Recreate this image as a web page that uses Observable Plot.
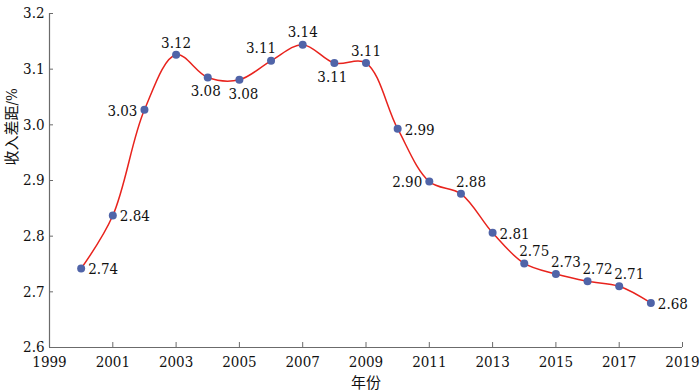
<!DOCTYPE html>
<html><head><meta charset="utf-8">
<script src="https://cdn.jsdelivr.net/npm/d3@7"></script>
<script src="https://cdn.jsdelivr.net/npm/@observablehq/plot@0.6"></script>
<style>
body{margin:0;background:#fff}
</style>
</head><body><div id="chart"></div>
<script>
const years = [2000,2001,2002,2003,2004,2005,2006,2007,2008,2009,2010,2011,2012,2013,2014,2015,2016,2017,2018];
const gap = [2.742,2.837,3.027,3.126,3.085,3.081,3.115,3.144,3.111,3.111,2.993,2.898,2.876,2.806,2.751,2.732,2.719,2.710,2.680];
const valueLabels = ["2.74","2.84","3.03","3.12","3.08","3.08","3.11","3.14","3.11","3.11","2.99","2.90","2.88","2.81","2.75","2.73","2.72","2.71","2.68"];
const labelPlacement = ["right","right","left","above","belowLeft","belowRight","aboveLeft","above","belowLeft","above","right","left","aboveRight","right","aboveRight","aboveRight","aboveRight","aboveRight","right"];
const xTicks = [1999,2001,2003,2005,2007,2009,2011,2013,2015,2017,2019];
const yTicks = [2.6,2.7,2.8,2.9,3.0,3.1,3.2];
const xTitle = "年份";
const yTitle = "收入差距/%";

const data = years.map((year, i) => ({year, value: gap[i], label: valueLabels[i], pos: labelPlacement[i]}));

const serif = "DejaVu Serif Condensed, DejaVu Serif, Noto Sans CJK SC";
const placementStyle = {
  right: {dx: 7, dy: 1, textAnchor: "start"},
  left: {dx: -7, dy: 1, textAnchor: "end"},
  above: {dx: 0, dy: -12, textAnchor: "middle"},
  belowLeft: {dx: -2, dy: 14, textAnchor: "middle"},
  belowRight: {dx: 4, dy: 14, textAnchor: "middle"},
  aboveLeft: {dx: -10, dy: -13, textAnchor: "middle"},
  aboveRight: {dx: 10, dy: -12, textAnchor: "middle"}
};

const axisColor = "#6b6b6b";
const labelMarks = Object.entries(placementStyle).map(([key, s]) =>
  Plot.text(data.filter(d => d.pos === key), {x: "year", y: "value", text: "label", fontSize: 15, fontFamily: serif, fill: "#111", ...s})
);

const chart = Plot.plot({
  width: 700,
  height: 391,
  marginLeft: 49,
  marginRight: 18,
  marginTop: 13,
  marginBottom: 44,
  style: {background: "#fff", fontFamily: serif},
  x: {domain: [xTicks[0], xTicks[xTicks.length - 1]]},
  y: {domain: [yTicks[0], yTicks[yTicks.length - 1]]},
  marks: [
    Plot.ruleX([xTicks[0]], {stroke: axisColor, strokeWidth: 1.2}),
    Plot.ruleY([yTicks[0]], {stroke: axisColor, strokeWidth: 1.2}),
    Plot.axisX({ticks: xTicks, tickFormat: d => String(d), tickSize: -5, tickPadding: 14, fontSize: 15, fontFamily: serif, color: "#111", stroke: axisColor,
      label: xTitle, labelAnchor: "center", labelOffset: 40, labelArrow: "none"}),
    Plot.axisY({ticks: yTicks, tickFormat: d3.format(".1f"), tickSize: -4, tickPadding: 9, fontSize: 15, fontFamily: serif, color: "#111", stroke: axisColor,
      label: null}),
    Plot.text([yTitle], {frameAnchor: "left", rotate: -90, dx: -37, dy: -15, fontSize: 15, fontFamily: serif, fill: "#111"}),
    Plot.line(data, {x: "year", y: "value", curve: "catmull-rom", stroke: "#e8231d", strokeWidth: 1.5}),
    Plot.dot(data, {x: "year", y: "value", r: 4, fill: "#5064a8", stroke: "none"}),
    ...labelMarks
  ]
});
document.getElementById("chart").appendChild(chart);
</script>
</body></html>
